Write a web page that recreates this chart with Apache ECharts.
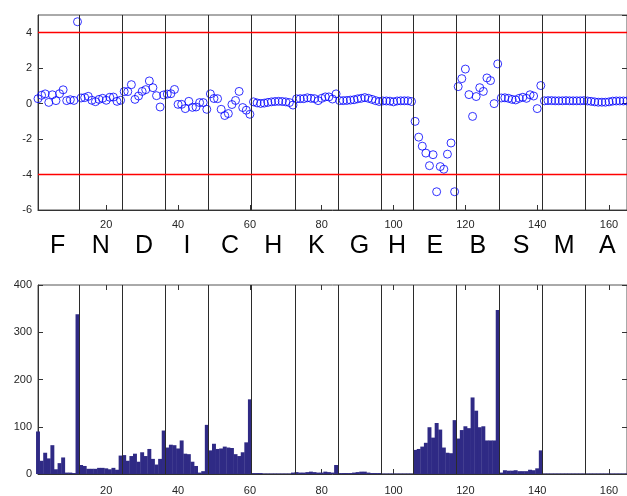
<!DOCTYPE html>
<html>
<head>
<meta charset="utf-8">
<script src="https://cdn.jsdelivr.net/npm/echarts@6/dist/echarts.min.js"></script>
<style>
  html, body { margin: 0; padding: 0; background: #ffffff; }
  #chart { width: 627px; height: 496px; }
</style>
</head>
<body>
<div id="chart"></div>
<script>
// Group labels along the position axis and how many positions each group holds
const groupNames = ['F', 'N', 'D', 'I', 'C', 'H', 'K', 'G', 'H', 'E', 'B', 'S', 'M', 'A'];
const groupSizes = [12, 12, 12, 12, 12, 12, 12, 12, 9, 12, 12, 12, 12, 12];

// Deviation score per position (upper panel)
const deviation = [
  0.28, 0.47, 0.55, 0.07, 0.50, 0.17, 0.56, 0.78, 0.17, 0.22, 0.18, 4.62,
  0.32, 0.34, 0.41, 0.19, 0.11, 0.24, 0.30, 0.19, 0.36, 0.37, 0.13, 0.19,
  0.68, 0.68, 1.07, 0.24, 0.43, 0.69, 0.79, 1.28, 0.90, 0.45, -0.19, 0.49,
  0.54, 0.56, 0.80, -0.04, -0.04, -0.28, 0.13, -0.21, -0.19, 0.06, 0.06, -0.32,
  0.55, 0.29, 0.28, -0.32, -0.67, -0.56, -0.05, 0.18, 0.69, -0.22, -0.37, -0.60,
  0.10, 0.04, 0.01, 0.03, 0.07, 0.10, 0.12, 0.13, 0.12, 0.10, 0.06, -0.08,
  0.27, 0.28, 0.28, 0.33, 0.30, 0.28, 0.17, 0.30, 0.38, 0.38, 0.26, 0.55,
  0.17, 0.17, 0.18, 0.20, 0.22, 0.27, 0.30, 0.34, 0.30, 0.24, 0.17, 0.12,
  0.15, 0.15, 0.14, 0.10, 0.15, 0.16, 0.16, 0.16, 0.12,
  -1.00, -1.89, -2.40, -2.79, -3.50, -2.88, -4.97, -3.55, -3.70, -2.85, -2.22, -4.97,
  0.96, 1.41, 1.95, 0.51, -0.72, 0.40, 0.90, 0.69, 1.45, 1.30, 0.00, 2.24,
  0.32, 0.33, 0.30, 0.24, 0.21, 0.30, 0.36, 0.30, 0.50, 0.43, -0.28, 1.02,
  0.16, 0.17, 0.17, 0.16, 0.16, 0.16, 0.17, 0.16, 0.16, 0.16, 0.16, 0.17,
  0.15, 0.13, 0.10, 0.08, 0.08, 0.08, 0.10, 0.14, 0.15, 0.15, 0.15, 0.15
];

// Count per position (lower panel)
const counts = [
  90, 28, 45, 33, 61, 10, 23, 35, 3, 3, 2, 338,
  19, 17, 11, 11, 11, 13, 13, 12, 10, 13, 9, 39,
  40, 28, 38, 43, 26, 46, 38, 53, 32, 20, 32, 92,
  56, 62, 61, 54, 71, 43, 42, 26, 17, 3, 6, 104,
  50, 64, 53, 54, 58, 56, 55, 42, 38, 46, 67, 158,
  2, 2, 2, 1, 1, 1, 1, 1, 1, 1, 1, 3,
  4, 3, 3, 4, 5, 4, 3, 3, 5, 4, 3, 19,
  2, 2, 2, 2, 3, 4, 5, 5, 3, 2, 2, 2,
  1, 1, 1, 1, 1, 1, 1, 1, 1,
  51, 53, 58, 66, 99, 77, 108, 94, 56, 45, 44, 114,
  75, 93, 101, 97, 162, 134, 99, 101, 71, 71, 71, 347,
  3, 8, 7, 7, 8, 6, 6, 6, 9, 8, 12, 50,
  1, 1, 1, 1, 1, 1, 1, 1, 1, 1, 1, 1,
  1, 1, 1, 1, 1, 1, 1, 1, 1, 1, 1, 1
];

const xTicks = [20, 40, 60, 80, 100, 120, 140, 160];
const deviationLimits = [4, -4];
const xRange = [1, 165];

// Group boundaries (between positions) and group centres for the letters
const boundaries = [];
const centers = [];
let start = 1;
groupSizes.forEach((n, k) => {
  const end = start + n - 1;
  centers.push((start + end) / 2);
  if (k < groupSizes.length - 1) boundaries.push(end + 0.5);
  start = end + 1;
});

const font = 'Liberation Sans, Arial, Helvetica, sans-serif';
const axisColor = '#333333';
const labelColor = '#262626';
const plotWidth = 589;

const devPoints = deviation.map((v, i) => [i + 1, v]);
const countBars = counts.map((v, i) => [i + 1, v]);

const separatorLines = {
  silent: true,
  symbol: 'none',
  label: { show: false },
  lineStyle: { color: '#2b2b2b', width: 1, type: 'solid' },
  emphasis: { disabled: true },
  data: boundaries.map(b => ({ xAxis: b }))
};

function posAxis(gridIndex, opts) {
  return Object.assign({
    type: 'value', gridIndex, min: xRange[0], max: xRange[1],
    position: 'bottom',
    splitLine: { show: false },
    axisLine: { show: true, onZero: false, lineStyle: { color: axisColor, width: 1 } },
    axisTick: { show: true, inside: true, length: 5, customValues: xTicks, lineStyle: { color: axisColor } },
    axisLabel: { show: true, customValues: xTicks, margin: 9, fontSize: 11, color: labelColor, fontFamily: font }
  }, opts || {});
}

const chart = echarts.init(document.getElementById('chart'), null, { renderer: 'canvas' });

chart.setOption({
  animation: false,
  backgroundColor: '#ffffff',
  grid: [
    { left: 38, top: 15, width: plotWidth, height: 195, show: true, borderColor: '#555555', borderWidth: 1, containLabel: false },
    { left: 38, top: 285, width: plotWidth, height: 194.5, show: true, borderColor: '#555555', borderWidth: 1, containLabel: false }
  ],
  xAxis: [
    posAxis(0),
    // group letters below the upper panel
    posAxis(0, {
      axisLine: { show: false, onZero: false },
      axisTick: { show: false },
      axisLabel: {
        show: true, customValues: centers, margin: 24, fontSize: 25, color: '#000000', fontFamily: font,
        formatter: v => {
          let best = 0;
          centers.forEach((c, k) => { if (Math.abs(c - v) < Math.abs(centers[best] - v)) best = k; });
          return groupNames[best];
        }
      }
    }),
    posAxis(1, {
      axisLabel: { show: true, customValues: xTicks, margin: 11, fontSize: 11, color: labelColor, fontFamily: font }
    }),
    // mirrored ticks along the top edge of the lower panel
    posAxis(1, { position: 'top', axisLine: { show: false, onZero: false }, axisLabel: { show: false } })
  ],
  yAxis: [
    {
      type: 'value', gridIndex: 0, min: -6, max: 5, interval: 2,
      splitLine: { show: false },
      axisLine: { show: true, onZero: false, lineStyle: { color: axisColor } },
      axisTick: { show: true, inside: true, length: 5, lineStyle: { color: axisColor } },
      axisLabel: { margin: 6, fontSize: 11, color: labelColor, fontFamily: font, showMaxLabel: false }
    },
    {
      type: 'value', gridIndex: 0, min: -6, max: 5, interval: 2, position: 'right',
      splitLine: { show: false },
      axisLine: { show: false, onZero: false },
      axisTick: { show: true, inside: true, length: 5, lineStyle: { color: axisColor } },
      axisLabel: { show: false }
    },
    {
      type: 'value', gridIndex: 1, min: 0, max: 400, interval: 100,
      splitLine: { show: false },
      axisLine: { show: true, onZero: false, lineStyle: { color: axisColor } },
      axisTick: { show: true, inside: true, length: 5, lineStyle: { color: axisColor } },
      axisLabel: { margin: 6, fontSize: 11, color: labelColor, fontFamily: font }
    },
    {
      type: 'value', gridIndex: 1, min: 0, max: 400, interval: 100, position: 'right',
      splitLine: { show: false },
      axisLine: { show: false, onZero: false },
      axisTick: { show: true, inside: true, length: 5, lineStyle: { color: axisColor } },
      axisLabel: { show: false }
    }
  ],
  series: [
    {
      type: 'scatter',
      xAxisIndex: 0, yAxisIndex: 0,
      data: devPoints,
      symbol: 'circle',
      symbolSize: 8,
      itemStyle: { color: 'rgba(0,0,0,0)', borderColor: '#0000ff', borderWidth: 1 },
      emphasis: { disabled: true },
      markLine: separatorLines,
      z: 3
    },
    {
      type: 'line',
      xAxisIndex: 0, yAxisIndex: 0,
      data: [],
      markLine: {
        silent: true,
        symbol: 'none',
        label: { show: false },
        lineStyle: { color: '#ff0000', width: 1.4, type: 'solid' },
        data: deviationLimits.map(v => ({ yAxis: v }))
      }
    },
    {
      type: 'bar',
      xAxisIndex: 2, yAxisIndex: 2,
      data: countBars,
      // slightly wider than one position so neighbouring bars close up
      barWidth: plotWidth / (xRange[1] - xRange[0]) + 0.35,
      itemStyle: { color: '#2f2a85', borderWidth: 0 },
      emphasis: { disabled: true },
      markLine: separatorLines
    }
  ]
});
</script>
</body>
</html>
